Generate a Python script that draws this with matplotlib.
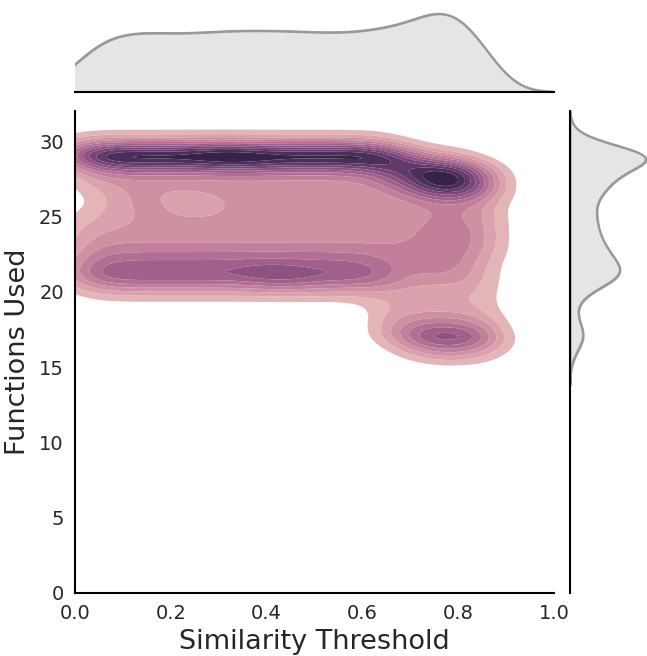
import numpy as np
import matplotlib
matplotlib.use("Agg")
import matplotlib.pyplot as plt
from matplotlib.colors import Normalize
import seaborn as sns

# ---------------- data ----------------
thresholds = [0.00, 0.05, 0.10, 0.15, 0.20, 0.25, 0.30, 0.35, 0.40,
              0.45, 0.50, 0.55, 0.60, 0.65, 0.70, 0.75, 0.80, 0.85]
functions_levels = [30, 29, 28, 27, 26, 25, 24, 23, 22, 21, 20, 19, 18, 17, 16]

# number of runs per threshold that used a given number of functions
n30 = [1, 2, 2, 2, 2, 2, 2, 2, 2, 2, 2, 2, 2, 2, 0, 0, 0, 0]
n29 = [8, 16, 16, 16, 16, 16, 18, 18, 16, 16, 16, 16, 16, 14, 6, 2, 2, 0]
n28 = [2, 4, 4, 4, 4, 4, 4, 4, 4, 4, 4, 4, 4, 8, 10, 14, 14, 6]
n27 = [1, 2, 3, 3, 3, 3, 3, 3, 3, 3, 3, 3, 3, 4, 7, 14, 14, 7]
n26 = [0, 1, 3, 4, 2, 2, 3, 3, 3, 3, 3, 3, 3, 3, 3, 4, 4, 3]
n25 = [1, 2, 3, 3, 3, 3, 3, 3, 3, 3, 3, 3, 3, 3, 3, 4, 4, 4]
n24 = [2, 3, 3, 3, 3, 3, 3, 3, 3, 3, 3, 3, 3, 3, 3, 5, 5, 4]
n23 = [2, 4, 4, 4, 4, 4, 4, 4, 4, 4, 4, 4, 4, 4, 4, 5, 5, 4]
n22 = [3, 6, 6, 6, 6, 6, 6, 6, 6, 6, 6, 6, 6, 5, 4, 5, 5, 2]
n21 = [4, 8, 8, 8, 8, 8, 8, 8, 10, 10, 8, 8, 8, 6, 3, 4, 4, 2]
n20 = [1, 2, 2, 2, 2, 2, 2, 2, 2, 2, 2, 2, 2, 2, 2, 2, 2, 2]
n19 = [0, 0, 0, 0, 0, 0, 0, 0, 0, 0, 0, 0, 0, 2, 2, 2, 2, 2]
n18 = [0, 0, 0, 0, 0, 0, 0, 0, 0, 0, 0, 0, 0, 2, 4, 4, 4, 4]
n17 = [0, 0, 0, 0, 0, 0, 0, 0, 0, 0, 0, 0, 0, 2, 7, 10, 10, 8]
n16 = [0, 0, 0, 0, 0, 0, 0, 0, 0, 0, 0, 0, 0, 0, 2, 4, 4, 2]
count_rows = [n30, n29, n28, n27, n26, n25, n24, n23, n22, n21, n20, n19, n18, n17, n16]

x_ticks = [0.0, 0.2, 0.4, 0.6, 0.8, 1.0]
y_ticks = [0, 5, 10, 15, 20, 25, 30]

# ---------------- build the (weighted) sample ----------------
ux, uy, w = [], [], []
for level, row in zip(functions_levels, count_rows):
    for t, c in zip(thresholds, row):
        if c > 0:
            ux.append(t)
            uy.append(level)
            w.append(c)
ux = np.array(ux, float)
uy = np.array(uy, float)
w = np.array(w, float)

JOINT_BW = 0.18
MARG_BW_X = 0.20
MARG_BW_Y = 0.20

# bivariate gaussian KDE (data covariance scaled by a bandwidth factor)
cov = np.cov(np.vstack([ux, uy]), fweights=w.astype(int)) * JOINT_BW ** 2
inv = np.linalg.inv(cov)
sx, sy = np.sqrt(cov[0, 0]), np.sqrt(cov[1, 1])
gx = np.linspace(ux.min() - 3 * sx, ux.max() + 3 * sx, 220)
gy = np.linspace(uy.min() - 3 * sy, uy.max() + 3 * sy, 220)
XX, YY = np.meshgrid(gx, gy)
dx = XX[..., None] - ux[None, None, :]
dy = YY[..., None] - uy[None, None, :]
q = inv[0, 0] * dx * dx + 2 * inv[0, 1] * dx * dy + inv[1, 1] * dy * dy
Z = (np.exp(-0.5 * q) * w).sum(-1) / (w.sum() * 2 * np.pi * np.sqrt(np.linalg.det(cov)))

# ---------------- figure ----------------
sns.set_style("white")
plt.rcParams['font.family'] = ['DejaVu Sans']
W, H = 647, 656
fig = plt.figure(figsize=(W / 100, H / 100), dpi=100)

def rect(l, t, r, b):
    return [l / W, 1 - b / H, (r - l) / W, (b - t) / H]

ax = fig.add_axes(rect(75, 111, 554, 593))
ax_top = fig.add_axes(rect(75, 0, 554, 92), sharex=ax)
ax_right = fig.add_axes(rect(570, 111, 647, 593), sharey=ax)

cmap = sns.cubehelix_palette(as_cmap=True)
levels = np.linspace(0, Z.max(), 13)
# lowest level left unshaded
ax.contourf(XX, YY, Z, levels=levels[1:], cmap=cmap,
            norm=Normalize(levels[0], levels[-1]), antialiased=True)

ax.set_xlim(0, 1)
ax.set_ylim(0, 32)
ax.set_xticks(x_ticks)
ax.set_yticks(y_ticks)
ax.tick_params(labelsize=14, length=0)
ax.tick_params(axis="x", pad=8)
ax.tick_params(axis="y", pad=8)
ax.set_xlabel("Similarity Threshold", fontsize=19.5, labelpad=4)
ax.set_ylabel("Functions Used", fontsize=19.5, labelpad=6)
for s in ["top", "right"]:
    ax.spines[s].set_visible(False)
for s in ["left", "bottom"]:
    ax.spines[s].set_color("black")
    ax.spines[s].set_linewidth(1.5)

# marginals
mcol = "#999999"
sns.kdeplot(x=ux, weights=w, ax=ax_top, bw_method=MARG_BW_X, fill=True,
            color=mcol, linewidth=1.5, cut=3, alpha=0.25)
sns.kdeplot(x=ux, weights=w, ax=ax_top, bw_method=MARG_BW_X, fill=False,
            color=mcol, linewidth=1.5, cut=3)
sns.kdeplot(y=uy, weights=w, ax=ax_right, bw_method=MARG_BW_Y, fill=True,
            color=mcol, linewidth=1.5, cut=3, alpha=0.25)
sns.kdeplot(y=uy, weights=w, ax=ax_right, bw_method=MARG_BW_Y, fill=False,
            color=mcol, linewidth=1.5, cut=3)
top_max = ax_top.lines[0].get_ydata().max()
ax_top.set_ylim(0, top_max / 0.85)
right_max = ax_right.lines[0].get_xdata().max()
ax_right.set_xlim(0, right_max / 0.985)
ax.set_xlim(0, 1)
ax.set_ylim(0, 32)

for a in (ax_top, ax_right):
    a.set_xlabel("")
    a.set_ylabel("")
    a.tick_params(left=False, bottom=False, labelleft=False, labelbottom=False)
    for s in a.spines.values():
        s.set_visible(False)
ax_top.spines["bottom"].set_visible(True)
ax_top.spines["bottom"].set_color("black")
ax_top.spines["bottom"].set_linewidth(1.5)
ax_right.spines["left"].set_visible(True)
ax_right.spines["left"].set_color("black")
ax_right.spines["left"].set_linewidth(1.5)

fig.savefig("out.png", dpi=100)
